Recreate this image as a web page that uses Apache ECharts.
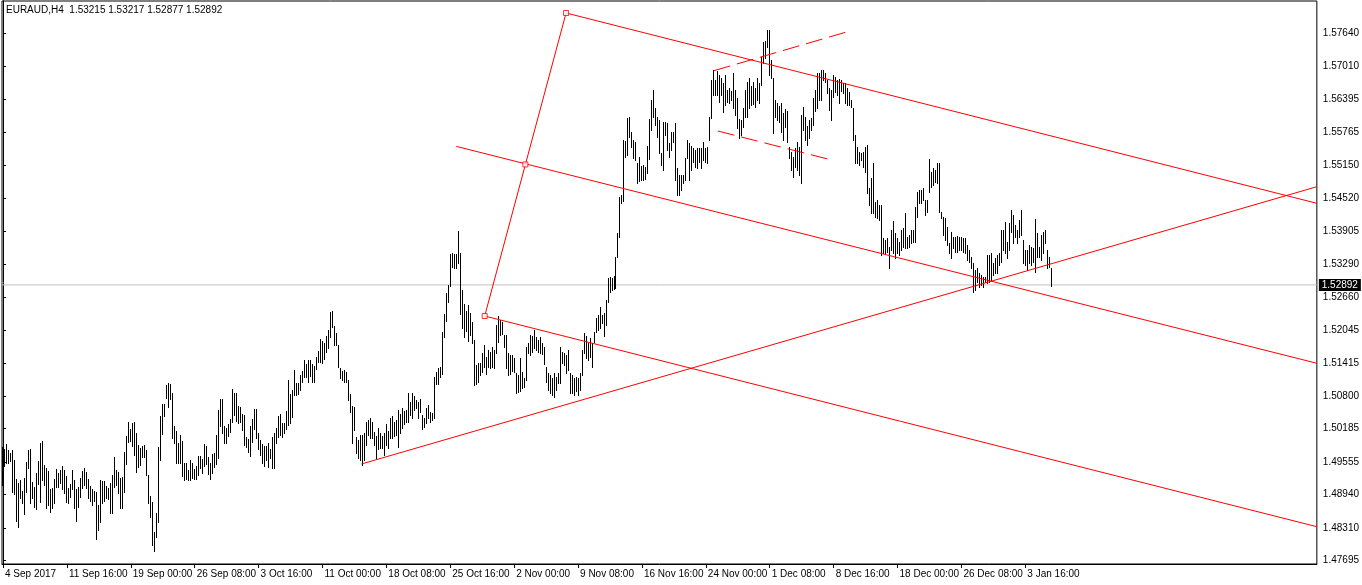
<!DOCTYPE html>
<html><head><meta charset="utf-8">
<script src="https://cdn.jsdelivr.net/npm/echarts@6/dist/echarts.min.js"></script>
<style>html,body{margin:0;padding:0;background:#fff}#c{width:1362px;height:585px}</style>
</head><body><div id="c"></div>
<script>
const headerText = 'EURAUD,H4  1.53215 1.53217 1.52877 1.52892';
const lastPrice = 1.52892;

// H4 bar highs / lows (one entry per bar, bar index = position)
const highs = [
1.4984,1.4980,1.4989,1.4978,1.4972,1.4978,1.4959,1.4923,1.4916,1.4922,
1.4901,1.4925,1.4955,1.4978,1.4980,1.4918,1.4908,1.4935,1.4957,1.4991,
1.4995,1.4950,1.4944,1.4938,1.4905,1.4906,1.4923,1.4942,1.4935,1.4940,
1.4948,1.4940,1.4929,1.4906,1.4914,1.4940,1.4922,1.4905,1.4908,1.4925,
1.4938,1.4944,1.4937,1.4923,1.4910,1.4905,1.4901,1.4899,1.4874,1.4922,
1.4920,1.4920,1.4910,1.4906,1.4916,1.4931,1.4965,1.4940,1.4937,1.4925,
1.4927,1.4974,1.5004,1.5031,1.5018,1.5029,1.5031,1.5010,1.4987,1.4982,
1.4986,1.4987,1.4978,1.4931,1.4891,1.4880,1.4823,1.4859,1.4984,1.5042,
1.5065,1.5065,1.5101,1.5104,1.5102,1.5085,1.5023,1.5014,1.4991,
1.5006,1.4995,1.4954,1.4954,1.4940,1.4959,1.4954,1.4942,1.4948,1.4967,
1.4967,1.4961,1.4989,1.4986,1.4965,1.4954,1.4971,1.4972,1.5006,1.5053,
1.5074,1.5074,1.5023,1.5020,1.5027,1.5036,1.5093,1.5085,1.5085,1.5061,
1.5059,1.5046,1.5044,1.5003,1.4999,1.5023,1.5036,1.5055,1.5055,1.5010,
1.4997,1.4989,1.4986,1.4986,1.4991,1.4980,1.5003,1.5010,1.5020,1.5042,
1.5046,1.5029,1.5029,1.5052,1.5110,1.5084,1.5091,1.5129,1.5104,1.5104,
1.5119,1.5127,1.5148,1.5140,1.5148,1.5148,1.5140,1.5136,1.5153,1.5165,
1.5187,1.5183,1.5180,1.5193,1.5204,1.5238,1.5240,1.5212,1.5199,1.5176,
1.5133,1.5127,1.5129,1.5125,1.5110,1.5084,1.5061,
1.5059,1.5003,1.4997,1.5006,1.5006,1.5010,1.5031,1.5035,1.5038,1.5031,
1.5012,1.5004,1.5020,1.5010,1.5004,1.5010,1.5027,1.5014,1.5038,1.5042,
1.5031,1.5035,1.5053,1.5046,1.5057,1.5052,1.5053,1.5085,1.5069,1.5085,
1.5080,1.5072,1.5069,1.5074,1.5044,1.5038,1.5057,1.5063,1.5050,1.5048,
1.5116,1.5125,1.5133,1.5135,1.5200,1.5234,1.5274,1.5289,1.5347,1.5349,
1.5347,1.5347,1.5391,1.5349,1.5280,1.5253,1.5240,1.5251,1.5236,1.5219,
1.5185,1.5138,1.5142,1.5142,1.5161,1.5176,1.5153,1.5167,1.5163,1.5172,
1.5167,1.5214,1.5231,1.5223,1.5219,1.5195,1.5195,1.5161,1.5157,1.5157,
1.5151,1.5123,1.5119,1.5151,1.5125,1.5114,1.5172,1.5180,1.5195,
1.5193,1.5204,1.5191,1.5185,1.5191,1.5180,1.5172,1.5135,1.5123,1.5119,
1.5114,1.5123,1.5116,1.5123,1.5172,1.5163,1.5161,1.5157,1.5167,1.5123,
1.5119,1.5114,1.5116,1.5114,1.5123,1.5167,1.5199,1.5193,1.5180,1.5189,
1.5180,1.5200,1.5227,1.5233,1.5248,1.5233,1.5236,1.5261,1.5302,1.5304,
1.5302,1.5306,1.5342,1.5387,1.5455,1.5459,1.5562,1.5560,1.5604,1.5606,
1.5577,1.5562,1.5559,1.5519,1.5530,1.5513,1.5515,1.5511,1.5551,1.5602,
1.5638,1.5657,1.5623,1.5606,1.5600,1.5538,1.5596,1.5596,1.5594,1.5557,
1.5577,1.5577,1.5594,1.5510,1.5496,1.5496,1.5496,1.5528,1.5562,1.5557,
1.5551,1.5547,1.5543,1.5547,1.5547,1.5547,1.5559,1.5547,1.5549,
1.5606,1.5675,1.5694,1.5675,1.5692,1.5685,1.5679,1.5670,1.5685,1.5657,
1.5660,1.5655,1.5689,1.5657,1.5641,1.5602,1.5600,1.5623,1.5657,1.5672,
1.5679,1.5664,1.5672,1.5660,1.5679,1.5670,1.5719,1.5747,1.5749,1.5770,
1.5770,1.5713,1.5679,1.5638,1.5632,1.5626,1.5632,1.5613,1.5621,1.5617,
1.5549,1.5540,1.5530,1.5547,1.5559,1.5549,1.5609,1.5625,1.5606,1.5589,
1.5600,1.5604,1.5641,1.5657,1.5689,1.5689,1.5694,1.5694,1.5689,1.5675,
1.5660,1.5657,1.5685,1.5681,1.5675,1.5677,1.5675,1.5670,1.5670,1.5660,
1.5653,1.5638,1.5623,1.5572,1.5549,1.5540,1.5538,1.5540,1.5549,1.5553,
1.5472,1.5491,1.5519,1.5446,1.5449,1.5440,1.5440,
1.5378,1.5374,1.5378,1.5361,1.5393,1.5410,1.5387,1.5378,1.5370,1.5393,
1.5396,1.5425,1.5380,1.5383,1.5393,1.5393,1.5436,1.5464,1.5468,1.5468,
1.5472,1.5449,1.5449,1.5527,1.5502,1.5510,1.5506,1.5519,1.5519,1.5427,
1.5417,1.5415,1.5398,1.5368,1.5389,1.5380,1.5380,1.5381,1.5380,1.5380,
1.5378,1.5378,1.5364,1.5355,1.5342,1.5330,1.5317,1.5321,1.5312,1.5308,
1.5304,1.5304,1.5346,1.5346,1.5349,1.5330,1.5340,1.5346,1.5349,1.5393,
1.5393,1.5408,1.5370,1.5406,1.5430,1.5421,1.5402,1.5393,1.5412,1.5430,
1.5374,1.5355,1.5355,1.5364,1.5361,1.5359,1.5413,1.5387,1.5361,1.5383,
1.5389,1.5393,1.5355,1.5342,1.53217
];
const lows = [
1.4912,1.4948,1.4954,1.4954,1.4957,1.4899,1.4895,1.4844,1.4833,1.4888,
1.4878,1.4857,1.4899,1.4944,1.4878,1.4888,1.4871,1.4867,1.4914,1.4880,
1.4922,1.4912,1.4869,1.4874,1.4861,1.4869,1.4878,1.4908,1.4908,1.4916,
1.4905,1.4897,1.4880,1.4878,1.4889,1.4905,1.4869,1.4844,1.4871,1.4889,
1.4906,1.4912,1.4906,1.4888,1.4882,1.4874,1.4882,1.4810,1.4827,1.4842,
1.4878,1.4882,1.4888,1.4886,1.4859,1.4859,1.4908,1.4912,1.4897,1.4869,
1.4869,1.4899,1.4952,1.4993,1.4995,1.4986,1.4969,1.4937,1.4946,1.4950,
1.4965,1.4965,1.4931,1.4878,1.4852,1.4799,1.4788,1.4814,1.4842,1.4959,
1.5008,1.5042,1.5076,1.5059,1.5074,1.5001,1.4991,1.4954,1.4954,
1.4954,1.4929,1.4922,1.4923,1.4922,1.4922,1.4925,1.4923,1.4923,1.4931,
1.4944,1.4935,1.4948,1.4952,1.4933,1.4923,1.4935,1.4946,1.4952,1.4963,
1.5023,1.5010,1.4991,1.4991,1.5004,1.5012,1.5031,1.5044,1.5033,1.5029,
1.5031,1.5016,1.4987,1.4984,1.4974,1.4967,1.4993,1.5018,1.5001,1.4980,
1.4969,1.4954,1.4948,1.4959,1.4946,1.4963,1.4944,1.4944,1.4991,1.5003,
1.5006,1.5003,1.5010,1.5018,1.5025,1.5029,1.5040,1.5082,1.5082,1.5084,
1.5091,1.5106,1.5116,1.5116,1.5106,1.5118,1.5106,1.5106,1.5131,1.5144,
1.5144,1.5142,1.5150,1.5163,1.5170,1.5191,1.5210,1.5176,1.5176,1.5135,
1.5114,1.5110,1.5106,1.5106,1.5072,1.5050,1.4991,
1.5016,1.4972,1.4963,1.4959,1.4950,1.4959,1.4987,1.5006,1.5001,1.5001,
1.4987,1.4963,1.4980,1.4982,1.4982,1.4969,1.4987,1.4982,1.5001,1.5001,
1.5004,1.5006,1.4984,1.5010,1.5020,1.5027,1.5031,1.5031,1.5044,1.5038,
1.5053,1.5057,1.5038,1.5050,1.5018,1.5021,1.5029,1.5038,1.5031,1.5035,
1.5038,1.5102,1.5102,1.5116,1.5121,1.5191,1.5221,1.5257,1.5287,1.5323,
1.5321,1.5321,1.5330,1.5234,1.5208,1.5191,1.5202,1.5183,1.5195,1.5180,
1.5101,1.5102,1.5106,1.5119,1.5125,1.5135,1.5121,1.5135,1.5133,1.5135,
1.5133,1.5161,1.5182,1.5195,1.5197,1.5172,1.5133,1.5119,1.5121,1.5127,
1.5125,1.5085,1.5087,1.5089,1.5095,1.5097,1.5110,1.5161,1.5157,
1.5163,1.5170,1.5167,1.5163,1.5161,1.5159,1.5140,1.5106,1.5091,1.5085,
1.5082,1.5078,1.5091,1.5104,1.5104,1.5142,1.5138,1.5123,1.5129,1.5085,
1.5085,1.5082,1.5089,1.5082,1.5091,1.5119,1.5161,1.5151,1.5148,1.5153,
1.5135,1.5182,1.5200,1.5204,1.5208,1.5217,1.5193,1.5214,1.5257,1.5276,
1.5280,1.5281,1.5283,1.5342,1.5379,1.5444,1.5447,1.5530,1.5534,1.5568,
1.5549,1.5528,1.5525,1.5481,1.5485,1.5487,1.5487,1.5489,1.5500,1.5527,
1.5581,1.5606,1.5591,1.5568,1.5538,1.5515,1.5506,1.5572,1.5543,1.5530,
1.5543,1.5559,1.5487,1.5459,1.5459,1.5468,1.5481,1.5487,1.5528,1.5487,
1.5506,1.5521,1.5511,1.5510,1.5521,1.5510,1.5525,1.5521,1.5519,
1.5562,1.5604,1.5647,1.5647,1.5647,1.5634,1.5647,1.5615,1.5628,1.5634,
1.5632,1.5638,1.5623,1.5609,1.5585,1.5566,1.5572,1.5587,1.5606,1.5606,
1.5623,1.5628,1.5630,1.5625,1.5638,1.5632,1.5666,1.5707,1.5717,1.5738,
1.5685,1.5679,1.5576,1.5606,1.5600,1.5596,1.5577,1.5562,1.5587,1.5559,
1.5528,1.5506,1.5493,1.5511,1.5506,1.5496,1.5481,1.5581,1.5562,1.5553,
1.5566,1.5581,1.5591,1.5617,1.5623,1.5638,1.5638,1.5675,1.5672,1.5651,
1.5619,1.5600,1.5643,1.5653,1.5647,1.5632,1.5655,1.5651,1.5632,1.5628,
1.5628,1.5625,1.5562,1.5519,1.5519,1.5515,1.5525,1.5511,1.5502,1.5462,
1.5440,1.5425,1.5425,1.5417,1.5415,1.5412,1.5346,
1.5349,1.5349,1.5351,1.5321,1.5355,1.5349,1.5340,1.5349,1.5346,1.5355,
1.5361,1.5359,1.5359,1.5361,1.5368,1.5370,1.5370,1.5417,1.5444,1.5444,
1.5449,1.5421,1.5427,1.5464,1.5474,1.5478,1.5483,1.5481,1.5427,1.5415,
1.5383,1.5374,1.5364,1.5349,1.5340,1.5359,1.5351,1.5351,1.5355,1.5355,
1.5351,1.5349,1.5336,1.5332,1.5321,1.5276,1.5280,1.5295,1.5285,1.5289,
1.5285,1.5295,1.5293,1.5295,1.5298,1.5308,1.5312,1.5312,1.5327,1.5332,
1.5355,1.5349,1.5340,1.5355,1.5389,1.5368,1.5380,1.5368,1.5380,1.5383,
1.5330,1.5327,1.5317,1.5330,1.5327,1.5332,1.5314,1.5342,1.5342,1.5336,
1.5349,1.5368,1.5321,1.5323,1.52877
];

// time-axis labels, one every 32 bars
const dateLabels = ['4 Sep 2017','11 Sep 16:00','19 Sep 00:00','26 Sep 08:00','3 Oct 16:00',
  '11 Oct 00:00','18 Oct 08:00','25 Oct 16:00','2 Nov 00:00','9 Nov 08:00','16 Nov 16:00',
  '24 Nov 00:00','1 Dec 08:00','8 Dec 16:00','18 Dec 00:00','26 Dec 08:00','3 Jan 16:00'];
const barsPerLabel = 32;

// price-scale labels
const priceLabels = [1.57640,1.57010,1.56395,1.55765,1.55150,1.54520,1.53905,1.53290,1.52660,
  1.52045,1.51415,1.50800,1.50185,1.49555,1.48940,1.48310,1.47695];
const priceMin = 1.47632, priceMax = 1.58243;
const slotMax = 658;   // visible bar slots (incl. right shift)

// drawn objects: [barIndex, price]
const pitchUpper  = [[282, 1.58017], [658, 1.54430]];
const pitchMedian = [[227, 1.55503], [658, 1.51415]];
const pitchLower  = [[241.25, 1.52306], [658, 1.48335]];
const pitchHandle = [[282, 1.58017], [241.25, 1.52306]];
const pitchPoints = [[282, 1.58017], [261.6, 1.55162], [241.25, 1.52306]];
const trendLine   = [[179.5, 1.49517], [658, 1.54743]];
const dashUpper   = [[356, 1.56929], [423, 1.57665]];
const dashLower   = [[358, 1.55793], [415, 1.55246]];

const FONT = 'Liberation Sans';
const bars = highs.map((h, i) => [i, h, lows[i]]);
const tickIdx = dateLabels.map((_, k) => k * barsPerLabel);
const bidLine = [[-0.5, lastPrice], [slotMax, lastPrice]];

const chart = echarts.init(document.getElementById('c'), null, {renderer: 'canvas'});
const red = '#ff0000';
function lineSeries(data, dashed) {
  return {type: 'line', data, showSymbol: false, symbol: 'none', z: 5, silent: true,
    lineStyle: {color: red, width: 1, type: dashed ? [17, 7] : 'solid'}, animation: false};
}
chart.setOption({
  animation: false,
  backgroundColor: '#fff',
  textStyle: {fontFamily: FONT},
  grid: {left: 2, top: 1, right: 43, bottom: 21, show: true, borderColor: '#000', borderWidth: 1, backgroundColor: 'transparent'},
  graphic: [{type: 'text', left: 6, top: 5, z: 10,
    style: {text: headerText, fontSize: 10, fontFamily: FONT, fill: '#000'}}],
  xAxis: {
    type: 'value', min: -0.5, max: slotMax,
    splitLine: {show: false},
    axisLine: {show: true, lineStyle: {color: '#000', width: 1}},
    axisTick: {show: true, customValues: tickIdx, length: 4, inside: false, lineStyle: {color: '#000'}},
    axisLabel: {show: true, customValues: tickIdx, align: 'left', margin: 5, padding: [0, 0, 0, 2],
      color: '#000', fontSize: 10, fontFamily: FONT,
      formatter: v => dateLabels[Math.round(v / barsPerLabel)] || ''}
  },
  yAxis: {
    type: 'value', position: 'right', min: priceMin, max: priceMax, scale: true,
    splitLine: {show: false},
    axisLine: {show: true, lineStyle: {color: '#000', width: 1}},
    axisTick: {show: true, customValues: priceLabels, length: 3, inside: false, lineStyle: {color: '#000'}},
    axisLabel: {show: true, customValues: priceLabels, margin: 6, color: '#000', fontSize: 10, fontFamily: FONT,
      formatter: v => v.toFixed(5)}
  },
  series: [
    {type: 'line', data: bidLine, z: 1, silent: true, showSymbol: false, symbol: 'none',
     lineStyle: {color: '#c0c0c0', width: 1},
     markPoint: {silent: true, animation: false, symbol: 'rect', symbolSize: [42, 12], symbolOffset: [23, 0],
       itemStyle: {color: '#000'},
       label: {show: true, position: 'inside', formatter: lastPrice.toFixed(5), color: '#fff', fontSize: 10, fontFamily: FONT},
       data: [{coord: [slotMax, lastPrice]}]}},
    {type: 'custom', data: bars, z: 3, silent: true, clip: true,
     encode: {x: 0, y: [1, 2]},
     renderItem: function (params, api) {
       const top = api.coord([api.value(0), api.value(1)]);
       const bot = api.coord([api.value(0), api.value(2)]);
       const y0 = Math.round(top[1]);
       const h = Math.max(1, Math.round(bot[1]) - y0 + 1);
       return {type: 'rect', shape: {x: Math.floor(top[0]), y: y0, width: 1, height: h},
               style: {fill: '#000'}};
     }},
    lineSeries(pitchUpper), lineSeries(pitchMedian), lineSeries(pitchLower),
    lineSeries(pitchHandle), lineSeries(trendLine),
    lineSeries(dashUpper, true), lineSeries(dashLower, true),
    {type: 'scatter', data: pitchPoints, symbol: 'rect', symbolSize: 5, z: 6, silent: true,
     itemStyle: {color: '#fff', borderColor: red, borderWidth: 1}}
  ]
});
</script></body></html>
